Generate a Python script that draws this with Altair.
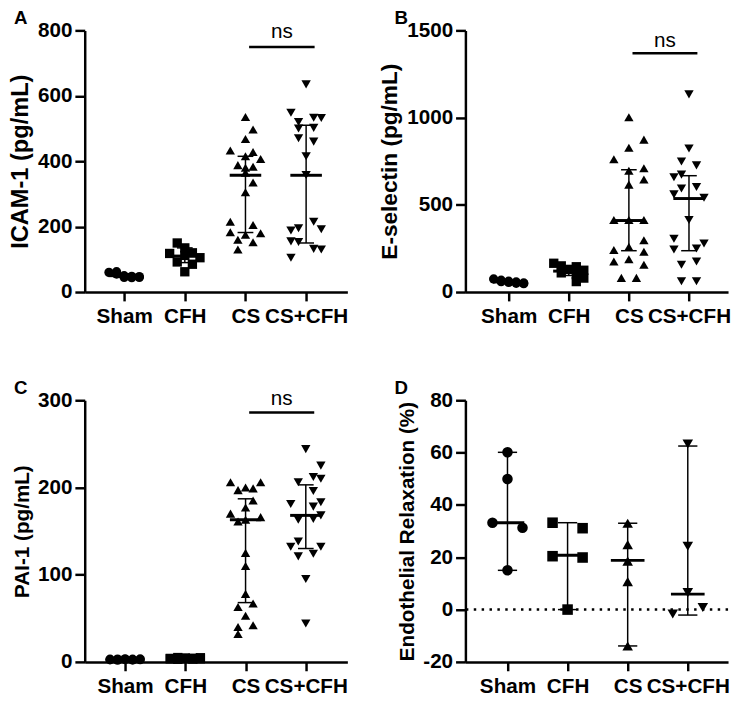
import altair as alt
import pandas as pd

groups = ["Sham", "CFH", "CS", "CS+CFH"]
shapes = ["circle", "square", "triangle-up", "triangle-down"]

# ---------------- Panel A: ICAM-1 ----------------
icam_sham = [60, 62, 55, 50, 45, 48, 44, 47, 45]
icam_sham_slot = [-2, -1, -1, 0, 0, 1, 1, 2, 2]
icam_cfh = [150, 135, 118, 120, 112, 105, 92, 85, 62]
icam_cfh_slot = [-1, 0, -2, 1, 0, 2, -1, 1, 0]
icam_cs = [535, 497, 468, 433, 415, 428, 407, 388, 380, 383, 365, 335, 305,
           215, 205, 183, 175, 180, 160, 152, 130]
icam_cs_slot = [0, 1, 0, -2, 0, 1, 2, -1, 0, 1, 0, 1, 0, -2, 1, -2, 0, 2, -1, 1, -1]
icam_cscfh = [635, 548, 520, 533, 532, 500, 502, 470, 460, 415, 358, 215, 188,
              195, 192, 155, 153, 132, 130, 105]
icam_cscfh_slot = [0, -2, -1, 1, 2, -1, 1, -1, 1, 0, 0, 1, -2, -1, 2, -2, -1, 1, 2, -2]
icam_med = [50, 110, 357, 357]
icam_lo = [45, 90, 182, 150]
icam_hi = [56, 135, 415, 510]

# ---------------- Panel B: E-selectin ----------------
esel_sham = [75, 68, 60, 55, 62, 50, 58, 48, 52]
esel_sham_slot = [-2, -1, -1, 0, 0, 1, 1, 2, 2]
esel_cfh = [165, 150, 145, 130, 125, 110, 100, 80, 60]
esel_cfh_slot = [-2, -1, 1, 0, 2, -1, 1, 2, 1]
esel_cs = [1002, 874, 827, 761, 695, 710, 645, 616, 413, 413, 413, 297, 241,
           259, 231, 175, 188, 156, 81, 81]
esel_cs_slot = [0, 2, 0, -2, 0, 2, 2, 0, -2, 0, 2, 2, -2, 0, 2, -2, 0, 2, -1, 1]
esel_cscfh = [1133, 823, 748, 726, 658, 673, 594, 602, 560, 541, 413, 306, 244,
              250, 278, 156, 175, 62, 62]
esel_cscfh_slot = [0, 0, -1, 1, -2, -1, -1, 1, -2, 2, 0, -2, -2, 1, 2, -1, 1, -1, 1]
esel_med = [58, 120, 410, 536]
esel_lo = [50, 95, 237, 237]
esel_hi = [65, 140, 701, 667]

# ---------------- Panel C: PAI-1 ----------------
pai_sham = [3.0, 2.5, 3.2, 2.0, 3.5, 2.8, 2.2, 3.0, 2.6, 3.3]
pai_sham_slot = [-2, -2, -1, -1, 0, 0, 1, 1, 2, 2]
pai_cfh = [4.0, 3.5, 5.0, 3.0, 4.5, 3.8, 3.2, 4.2, 3.6, 4.8]
pai_cfh_slot = [-2, -2, -1, -1, 0, 0, 1, 1, 2, 2]
pai_cs = [206, 197, 200, 199, 206, 185, 177, 170, 161, 163, 166, 125, 110, 78,
          67, 63, 53, 42, 40, 32]
pai_cs_slot = [-2, -1, 0, 1, 2, 1, 0, -2, -1, 0, 2, 0, 0, 0, 1, -1, 0, 1, -1, -1]
pai_cscfh = [244, 225, 206, 212, 210, 196, 181, 183, 178, 163, 164, 168, 132,
             138, 132, 121, 124, 95, 44]
pai_cscfh_slot = [0, 2, -1, 1, 2, 1, -2, 2, 1, -1, 1, 2, -2, -1, 2, -1, 1, 0, 0]
pai_med = [3.0, 4.0, 163, 168]
pai_lo = [2.5, 3.5, 68, 130]
pai_hi = [3.3, 4.5, 187, 203]

# ---------------- Panel D: Endothelial relaxation ----------------
endo_sham = [60.1, 49.9, 33.2, 31.3, 15.0]
endo_sham_slot = [0, 0, -2, 2, 0]
endo_cfh = [33.2, 31.1, 20.4, 19.9, 0.0]
endo_cfh_slot = [-2, 2, -2, 2, 0]
endo_cs = [33.0, 24.8, 18.5, 10.7, -13.9]
endo_cs_slot = [0, 0, 0, 0, 0]
endo_cscfh = [63.3, 24.2, 6.5, -1.7, 0.8]
endo_cscfh_slot = [0, 0, 0, -2, 2]
endo_med = [33.2, 20.8, 18.8, 5.9]
endo_lo = [15.0, 0.0, -13.9, -2.1]
endo_hi = [60.1, 33.2, 33.0, 62.5]

FONT = "Liberation Sans"
W, H = 267, 266


def make_panel(letter, ytitle, vals, slots, med, lo, hi, ydom, yvals, xdom,
               title_size, size, med_half, cap_half, ns_level=None,
               ns_text_level=None, zero_line=False):
    rows = []
    for gi, (v, s) in enumerate(zip(vals, slots)):
        for vv, ss in zip(v, s):
            rows.append({"g": gi + 1, "grp": groups[gi], "value": vv, "slot": ss})
    pts = pd.DataFrame(rows)
    summ = pd.DataFrame({"g": [1, 2, 3, 4], "med": med, "lo": lo, "hi": hi})

    xs = alt.Scale(domain=xdom, nice=False, zero=False)
    ys = alt.Scale(domain=ydom, nice=False, zero=False)
    xaxis = alt.Axis(values=[1, 2, 3, 4],
                     labelExpr="datum.value == 1 ? 'Sham' : datum.value == 2 ? 'CFH' : datum.value == 3 ? 'CS' : 'CS+CFH'",
                     grid=False, domainWidth=2.5, domainColor="black",
                     tickWidth=2.5, tickColor="black", tickSize=9,
                     labelFont=FONT, labelFontSize=21, labelFontWeight="bold",
                     labelColor="black", labelPadding=5, labelOverlap=False,
                     labelFlush=False)
    yaxis = alt.Axis(values=yvals, labelExpr="'' + datum.value", grid=False,
                     domainWidth=2.5, domainColor="black", tickWidth=2.5,
                     tickColor="black", tickSize=10, labelFont=FONT,
                     labelFontSize=21, labelFontWeight="bold", labelColor="black",
                     labelPadding=3, labelOverlap=False, labelFlush=False,
                     titleFont=FONT, titleFontSize=title_size,
                     titleFontWeight="bold", titleColor="black", titlePadding=5)

    def X(f):
        return alt.X(f, scale=xs, axis=xaxis, title=None)

    def Y(f):
        return alt.Y(f, scale=ys, axis=yaxis, title=ytitle)

    layers = []
    if zero_line:
        zl = alt.Chart(pd.DataFrame({"z": [0]})).mark_rule(
            strokeDash=[2.5, 5.5], strokeWidth=2.5, color="black").encode(y=Y("z:Q"))
        layers.append(zl)

    points = alt.Chart(pts).transform_calculate(
        xp="datum.g + datum.slot * 0.125"
    ).mark_point(filled=True, opacity=1, color="black", size=size, strokeWidth=0).encode(
        x=X("xp:Q"), y=Y("value:Q"),
        shape=alt.Shape("grp:N", scale=alt.Scale(domain=groups, range=shapes), legend=None))
    layers.append(points)

    sc = alt.Chart(summ).transform_calculate(
        m1=f"datum.g - {med_half}", m2=f"datum.g + {med_half}",
        c1=f"datum.g - {cap_half}", c2=f"datum.g + {cap_half}")
    layers.append(sc.mark_rule(strokeWidth=1.5, color="black").encode(
        x=X("g:Q"), y=Y("lo:Q"), y2="hi:Q"))
    layers.append(sc.mark_rule(strokeWidth=3, color="black").encode(
        x=X("m1:Q"), x2="m2:Q", y=Y("med:Q")))
    layers.append(sc.mark_rule(strokeWidth=1.5, color="black").encode(
        x=X("c1:Q"), x2="c2:Q", y=Y("lo:Q")))
    layers.append(sc.mark_rule(strokeWidth=1.5, color="black").encode(
        x=X("c1:Q"), x2="c2:Q", y=Y("hi:Q")))

    if ns_level is not None:
        nsdf = pd.DataFrame({"level": [ns_level], "tlevel": [ns_text_level], "label": ["ns"]})
        layers.append(alt.Chart(nsdf).transform_calculate(a="3.06", b="4.14").mark_rule(
            strokeWidth=2.5, color="black").encode(x=X("a:Q"), x2="b:Q", y=Y("level:Q")))
        layers.append(alt.Chart(nsdf).transform_calculate(c="3.6").mark_text(
            font=FONT, fontSize=21, align="center", baseline="alphabetic", color="black"
        ).encode(x=X("c:Q"), y=Y("tlevel:Q"), text="label:N"))

    layers.append(alt.Chart(pd.DataFrame({"t": [letter]})).mark_text(
        font=FONT, fontSize=19, fontWeight="bold", align="left", baseline="top",
        color="black").encode(x=alt.value(-72), y=alt.value(-21), text="t:N"))

    return alt.layer(*layers).properties(width=W, height=H)


A = make_panel("A", "ICAM-1 (pg/mL)",
               [icam_sham, icam_cfh, icam_cs, icam_cscfh],
               [icam_sham_slot, icam_cfh_slot, icam_cs_slot, icam_cscfh_slot],
               icam_med, icam_lo, icam_hi, [0, 800], [0, 200, 400, 600, 800],
               [0.35, 4.68], 24, 90, 0.26, 0.13, 749, 776)
B = make_panel("B", "E-selectin (pg/mL)",
               [esel_sham, esel_cfh, esel_cs, esel_cscfh],
               [esel_sham_slot, esel_cfh_slot, esel_cs_slot, esel_cscfh_slot],
               esel_med, esel_lo, esel_hi, [0, 1500], [0, 500, 1000, 1500],
               [0.28, 4.65], 23, 90, 0.26, 0.13, 1369, 1406)
C = make_panel("C", "PAI-1 (pg/mL)",
               [pai_sham, pai_cfh, pai_cs, pai_cscfh],
               [pai_sham_slot, pai_cfh_slot, pai_cs_slot, pai_cscfh_slot],
               pai_med, pai_lo, pai_hi, [0, 300], [0, 100, 200, 300],
               [0.33, 4.69], 21, 90, 0.26, 0.13, 286, 295)
D = make_panel("D", "Endothelial Relaxation (%)",
               [endo_sham, endo_cfh, endo_cs, endo_cscfh],
               [endo_sham_slot, endo_cfh_slot, endo_cs_slot, endo_cscfh_slot],
               endo_med, endo_lo, endo_hi, [-20, 80], [-20, 0, 20, 40, 60, 80],
               [0.30, 4.67], 21, 115, 0.28, 0.16, zero_line=True)

chart = alt.concat(
    A, B, C, D, columns=2,
    spacing={"row": 110, "column": 120}, bounds="flush",
).properties(
    padding={"left": 0, "top": -4, "right": 0, "bottom": 0}
).configure_view(stroke=None)

chart.save("out.html", embed_options={"renderer": "svg", "actions": False})
